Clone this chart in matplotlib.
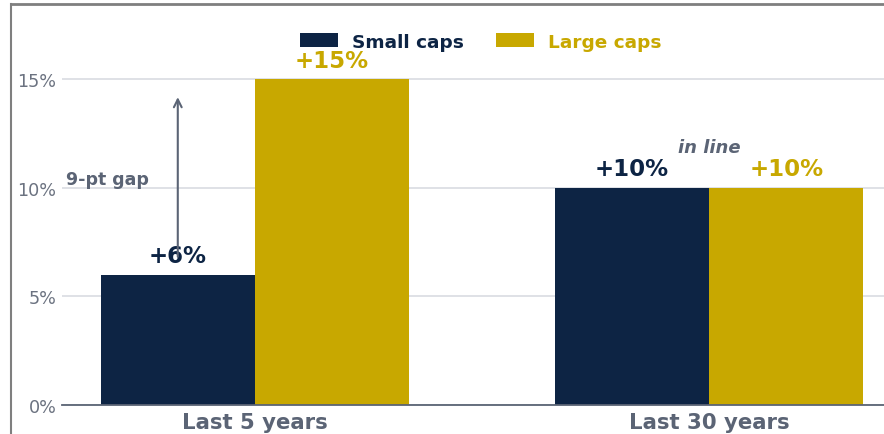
import numpy as np
import matplotlib.pyplot as plt
from matplotlib.lines import Line2D

# data
periods = ["Last 5 years", "Last 30 years"]
small_caps = [6, 10]
large_caps = [15, 10]
small_labels = ["+6%", "+10%"]
large_labels = ["+15%", "+10%"]
yticks = [0, 5, 10, 15]

NAVY = "#0d2444"
GOLD = "#c8a800"
GRAY = "#5b6475"

fig = plt.figure(figsize=(8.84, 4.35), dpi=100)
ax = fig.add_axes([62 / 884, 29 / 435, 840 / 884, 391 / 435])

x = np.arange(len(periods))
w = 0.34
b1 = ax.bar(x - w / 2, small_caps, w, color=NAVY, label="Small caps", zorder=2)
b2 = ax.bar(x + w / 2, large_caps, w, color=GOLD, label="Large caps", zorder=2)

ax.bar_label(b1, labels=small_labels, padding=5.5, fontsize=16.5,
             fontweight="bold", color=NAVY)
ax.bar_label(b2, labels=large_labels, padding=5.5, fontsize=16.5,
             fontweight="bold", color=GOLD)

# gap annotation
ax.annotate("", xy=(x[0] - w / 2, 14.3), xytext=(x[0] - w / 2, 6.7),
            arrowprops=dict(arrowstyle="->", color=GRAY, lw=1.5,
                            mutation_scale=14), zorder=3)
ax.text(-0.325, 10.4, "9-pt gap", ha="center", va="center", fontsize=12.5,
        fontweight="bold", color=GRAY)
ax.text(x[1], 11.9, "in line", ha="center", va="center", fontsize=13,
        fontweight="bold", fontstyle="italic", color=GRAY)

ax.set_xlim(-0.425, 1.425)
ax.set_ylim(0, 18)
ax.set_yticks(yticks)
ax.set_yticklabels([f"{t}%" for t in yticks])
ax.set_xticks(x)
ax.set_xticklabels(periods, fontsize=15.3, fontweight="bold", color=GRAY)
ax.tick_params(axis="y", length=0, pad=4, labelsize=12.7, labelcolor="#6b7280")
ax.tick_params(axis="x", length=0, pad=5)
ax.grid(axis="y", color="#d9dce2", lw=1.2, zorder=0)
for s in ["top", "right", "left"]:
    ax.spines[s].set_visible(False)
ax.spines["bottom"].set_color(GRAY)
ax.spines["bottom"].set_linewidth(1.3)

leg = ax.legend(loc="upper center", ncol=2, frameon=False, fontsize=13.3,
                handlelength=2.1, handleheight=0.75, handletextpad=0.75,
                columnspacing=1.7, bbox_to_anchor=(0.4985, 0.995))
for t, c in zip(leg.get_texts(), [NAVY, GOLD]):
    t.set_color(c)
    t.set_fontweight("bold")

# frame around the figure
fig.add_artist(Line2D([11 / 884, 11 / 884], [0, 1 - 5 / 435], color="#7f7f7f", lw=1.5))
fig.add_artist(Line2D([11 / 884, 1], [1 - 5 / 435, 1 - 5 / 435], color="#7f7f7f", lw=2))

fig.savefig("out.png", dpi=100)
